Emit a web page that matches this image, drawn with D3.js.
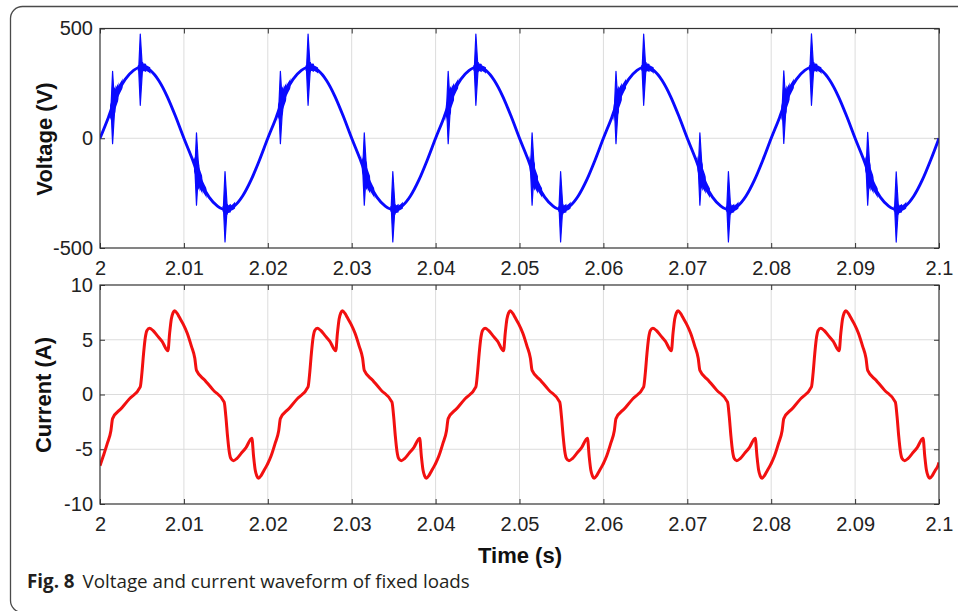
<!DOCTYPE html>
<html><head><meta charset="utf-8">
<script src="https://cdn.jsdelivr.net/npm/d3@7"></script>
<style>body{margin:0;background:#fff}svg{display:block}</style>
</head><body><svg id="c" width="958" height="611"></svg>
<script>
// ---------- data ----------
const xTicks = [2, 2.01, 2.02, 2.03, 2.04, 2.05, 2.06, 2.07, 2.08, 2.09, 2.1];
const xTickLabels = ["2", "2.01", "2.02", "2.03", "2.04", "2.05", "2.06", "2.07", "2.08", "2.09", "2.1"];
const voltageTicks = [-500, 0, 500];
const voltageTickLabels = ["-500", "0", "500"];
const currentTicks = [-10, -5, 0, 5, 10];
const currentTickLabels = ["-10", "-5", "0", "5", "10"];

// voltage base waveform, sampled every 1 ms from t = 2.000 s
const voltageStart = 2.0, voltageStep = 0.001;
const voltageValues = [
  0, 95, 200, 268, 309, 325, 309, 263, 191, 100, 0, -95, -200, -268, -309, -325, -309, -263, -191, -100,
  0, 95, 200, 268, 309, 325, 309, 263, 191, 100, 0, -95, -200, -268, -309, -325, -309, -263, -191, -100,
  0, 95, 200, 268, 309, 325, 309, 263, 191, 100, 0, -95, -200, -268, -309, -325, -309, -263, -191, -100,
  0, 95, 200, 268, 309, 325, 309, 263, 191, 100, 0, -95, -200, -268, -309, -325, -309, -263, -191, -100,
  0, 95, 200, 268, 309, 325, 309, 263, 191, 100, 0, -95, -200, -268, -309, -325, -309, -263, -191, -100,
  0
];
// switching transients on the voltage
const spikeTimes = [2.0015, 2.0048, 2.0115, 2.0149, 2.0215, 2.0248, 2.0315, 2.0349,
                    2.0415, 2.0448, 2.0515, 2.0549, 2.0615, 2.0648, 2.0715, 2.0749,
                    2.0815, 2.0848, 2.0915, 2.0949];
const spikeHigh = [305, 475, 25, -152, 305, 475, 25, -152, 305, 475, 25, -152,
                   305, 475, 25, -152, 307, 476, 27, -153];
const spikeLow = [-25, 150, -305, -472, -25, 150, -305, -472, -25, 150, -305, -472,
                  -25, 150, -305, -472, -24, 150, -305, -473];

// current waveform [time (s), current (A)]
const currentData = [
  [2.0000,-6.5],[2.0004,-5.6],[2.0009,-4.4],[2.0013,-3.3],[2.0015,-2.2],[2.0025,-1.3],[2.0035,-0.4],[2.0048,0.7],
  [2.0050,2.0],[2.0052,3.8],[2.0054,5.2],[2.0056,5.85],[2.0059,6.05],[2.0063,5.85],[2.0068,5.4],[2.0074,4.85],
  [2.0081,4.0],[2.0083,5.6],[2.0085,6.9],[2.0087,7.45],[2.0089,7.65],[2.0092,7.4],[2.0095,7.0],[2.0099,6.45],
  [2.0104,5.6],[2.0109,4.4],[2.0113,3.3],[2.0115,2.2],[2.0125,1.3],[2.0135,0.4],[2.0148,-0.7],[2.0150,-2.0],
  [2.0152,-3.8],[2.0154,-5.2],[2.0156,-5.85],[2.0159,-6.05],[2.0163,-5.85],[2.0168,-5.4],[2.0174,-4.85],[2.0181,-4.0],
  [2.0183,-5.6],[2.0185,-6.9],[2.0187,-7.45],[2.0189,-7.65],[2.0192,-7.4],[2.0195,-7.0],[2.0199,-6.45],

  [2.0200,-6.3],[2.0204,-5.6],[2.0209,-4.4],[2.0213,-3.3],[2.0215,-2.2],[2.0225,-1.3],[2.0235,-0.4],[2.0248,0.7],
  [2.0250,2.0],[2.0252,3.8],[2.0254,5.2],[2.0256,5.85],[2.0259,6.05],[2.0263,5.85],[2.0268,5.4],[2.0274,4.85],
  [2.0281,4.0],[2.0283,5.6],[2.0285,6.9],[2.0287,7.45],[2.0289,7.65],[2.0292,7.4],[2.0295,7.0],[2.0299,6.45],
  [2.0304,5.6],[2.0309,4.4],[2.0313,3.3],[2.0315,2.2],[2.0325,1.3],[2.0335,0.4],[2.0348,-0.7],[2.0350,-2.0],
  [2.0352,-3.8],[2.0354,-5.2],[2.0356,-5.85],[2.0359,-6.05],[2.0363,-5.85],[2.0368,-5.4],[2.0374,-4.85],[2.0381,-4.0],
  [2.0383,-5.6],[2.0385,-6.9],[2.0387,-7.45],[2.0389,-7.65],[2.0392,-7.4],[2.0395,-7.0],[2.0399,-6.45],

  [2.0400,-6.3],[2.0404,-5.6],[2.0409,-4.4],[2.0413,-3.3],[2.0415,-2.2],[2.0425,-1.3],[2.0435,-0.4],[2.0448,0.7],
  [2.0450,2.0],[2.0452,3.8],[2.0454,5.2],[2.0456,5.85],[2.0459,6.05],[2.0463,5.85],[2.0468,5.4],[2.0474,4.85],
  [2.0481,4.0],[2.0483,5.6],[2.0485,6.9],[2.0487,7.45],[2.0489,7.65],[2.0492,7.4],[2.0495,7.0],[2.0499,6.45],
  [2.0504,5.6],[2.0509,4.4],[2.0513,3.3],[2.0515,2.2],[2.0525,1.3],[2.0535,0.4],[2.0548,-0.7],[2.0550,-2.0],
  [2.0552,-3.8],[2.0554,-5.2],[2.0556,-5.85],[2.0559,-6.05],[2.0563,-5.85],[2.0568,-5.4],[2.0574,-4.85],[2.0581,-4.0],
  [2.0583,-5.6],[2.0585,-6.9],[2.0587,-7.45],[2.0589,-7.65],[2.0592,-7.4],[2.0595,-7.0],[2.0599,-6.45],

  [2.0600,-6.3],[2.0604,-5.6],[2.0609,-4.4],[2.0613,-3.3],[2.0615,-2.2],[2.0625,-1.3],[2.0635,-0.4],[2.0648,0.7],
  [2.0650,2.0],[2.0652,3.8],[2.0654,5.2],[2.0656,5.85],[2.0659,6.05],[2.0663,5.85],[2.0668,5.4],[2.0674,4.85],
  [2.0681,4.0],[2.0683,5.6],[2.0685,6.9],[2.0687,7.45],[2.0689,7.65],[2.0692,7.4],[2.0695,7.0],[2.0699,6.45],
  [2.0704,5.6],[2.0709,4.4],[2.0713,3.3],[2.0715,2.2],[2.0725,1.3],[2.0735,0.4],[2.0748,-0.7],[2.0750,-2.0],
  [2.0752,-3.8],[2.0754,-5.2],[2.0756,-5.85],[2.0759,-6.05],[2.0763,-5.85],[2.0768,-5.4],[2.0774,-4.85],[2.0781,-4.0],
  [2.0783,-5.6],[2.0785,-6.9],[2.0787,-7.45],[2.0789,-7.65],[2.0792,-7.4],[2.0795,-7.0],[2.0799,-6.45],

  [2.0800,-6.3],[2.0804,-5.6],[2.0809,-4.4],[2.0813,-3.3],[2.0815,-2.2],[2.0825,-1.3],[2.0835,-0.4],[2.0848,0.7],
  [2.0850,2.0],[2.0852,3.8],[2.0854,5.2],[2.0856,5.85],[2.0859,6.05],[2.0863,5.85],[2.0868,5.4],[2.0874,4.85],
  [2.0881,4.0],[2.0883,5.6],[2.0885,6.9],[2.0887,7.45],[2.0889,7.65],[2.0892,7.4],[2.0895,7.0],[2.0899,6.45],
  [2.0904,5.6],[2.0909,4.4],[2.0913,3.3],[2.0915,2.2],[2.0925,1.3],[2.0935,0.4],[2.0948,-0.7],[2.0950,-2.0],
  [2.0952,-3.8],[2.0954,-5.2],[2.0956,-5.85],[2.0959,-6.05],[2.0963,-5.85],[2.0968,-5.4],[2.0974,-4.85],[2.0981,-4.0],
  [2.0983,-5.6],[2.0985,-6.9],[2.0987,-7.45],[2.0989,-7.65],[2.0992,-7.4],[2.0995,-7.0],[2.0999,-6.45],
  [2.1000,-6.2]
];

const voltageLabel = "Voltage (V)";
const currentLabel = "Current (A)";
const timeLabel = "Time (s)";
const captionBold = "Fig. 8";
const captionText = "Voltage and current waveform of fixed loads";

// ---------- drawing ----------
const W = 958, H = 611;
const svg = d3.select("#c");
svg.append("rect").attr("width", W).attr("height", H).attr("fill", "#fff");
svg.append("rect").attr("x", 10.5).attr("y", 6.5).attr("width", 970).attr("height", 606)
  .attr("rx", 12).attr("fill", "none").attr("stroke", "#4a4a4a").attr("stroke-width", 1.3);

const L = 100, R = 939;
const x = d3.scaleLinear().domain([2, 2.1]).range([L, R]);
const yV = d3.scaleLinear().domain([-500, 500]).range([248, 28.5]);
const yC = d3.scaleLinear().domain([-10, 10]).range([504, 285]);
const tickFont = "'Liberation Sans', Arial, Helvetica, sans-serif";
const defs = svg.append("defs");

function panel(id, y, yTicks, yLabels) {
  const [yb, yt] = y.range();
  const g = svg.append("g");
  g.selectAll(".gx").data(xTicks.slice(1, -1)).join("line")
    .attr("x1", d => x(d)).attr("x2", d => x(d)).attr("y1", yt).attr("y2", yb)
    .attr("stroke", "#dcdcdc").attr("stroke-width", 1);
  g.selectAll(".gy").data(yTicks.slice(1, -1)).join("line")
    .attr("x1", L).attr("x2", R).attr("y1", d => y(d)).attr("y2", d => y(d))
    .attr("stroke", "#dcdcdc").attr("stroke-width", 1);
  const ax = (a) => a.call(s => s.select(".domain").remove())
    .call(s => s.selectAll(".tick line").attr("stroke", "#333"))
    .call(s => s.selectAll("text").attr("fill", "#222").style("font-family", tickFont).style("font-size", "20px"));
  g.append("g").attr("transform", `translate(0,${yb})`)
    .call(d3.axisBottom(x).tickValues(xTicks).tickSize(-5).tickPadding(13).tickFormat((d, i) => xTickLabels[i])).call(ax);
  g.append("g").attr("transform", `translate(0,${yt})`)
    .call(d3.axisTop(x).tickValues(xTicks).tickSize(-5).tickFormat("")).call(ax);
  g.append("g").attr("transform", `translate(${L},0)`)
    .call(d3.axisLeft(y).tickValues(yTicks).tickSize(-5).tickPadding(7).tickFormat((d, i) => yLabels[i])).call(ax);
  g.append("g").attr("transform", `translate(${R},0)`)
    .call(d3.axisRight(y).tickValues(yTicks).tickSize(-5).tickFormat("")).call(ax);
  defs.append("clipPath").attr("id", id).append("rect")
    .attr("x", L).attr("y", yt).attr("width", R - L).attr("height", yb - yt);
  return g;
}

panel("clipV", yV, voltageTicks, voltageTickLabels);
panel("clipC", yC, currentTicks, currentTickLabels);

// voltage
const voltagePts = voltageValues.map((v, i) => [voltageStart + i * voltageStep, v]);
const vLine = d3.line().x(d => x(d[0])).y(d => yV(d[1])).curve(d3.curveMonotoneX);
const blue = "#0a0aff";
const vLayer = svg.append("g").attr("clip-path", "url(#clipV)");
vLayer.append("path").attr("d", vLine(voltagePts)).attr("fill", "none")
  .attr("stroke", blue).attr("stroke-width", 2.9).attr("stroke-linejoin", "round");
// transient blobs: thicker strokes of the same trace around each switching instant
const blobLayers = [{pre: 0.0003, post: 0.0012, w: 5}, {pre: 0.00015, post: 0.0007, w: 7.5}, {pre: 0.00005, post: 0.00035, w: 10}];
spikeTimes.forEach((t, i) => {
  blobLayers.forEach((b, j) => {
    const cid = `bl${i}_${j}`;
    defs.append("clipPath").attr("id", cid).append("rect")
      .attr("x", x(t - b.pre)).attr("y", 0).attr("width", x(t + b.post) - x(t - b.pre)).attr("height", H);
    vLayer.append("path").attr("d", vLine(voltagePts)).attr("fill", "none")
      .attr("clip-path", `url(#${cid})`).attr("stroke", blue).attr("stroke-width", b.w);
  });
});
// needle of each transient: pointed at both extremes, widest at the trace
vLayer.selectAll(".spike").data(spikeTimes).join("path")
  .attr("d", (d, i) => {
    const xs = x(d), yh = yV(spikeHigh[i]), yl = yV(spikeLow[i]), ym = (yh + yl) / 2;
    return `M${xs},${yh}L${xs + 2.2},${ym}L${xs},${yl}L${xs - 1.6},${ym}Z`;
  })
  .attr("fill", blue).attr("stroke", blue).attr("stroke-width", 1.2).attr("stroke-linejoin", "round");

// current
const cLine = d3.line().x(d => x(d[0])).y(d => yC(d[1])).curve(d3.curveMonotoneX);
svg.append("g").attr("clip-path", "url(#clipC)").append("path")
  .attr("d", cLine(currentData)).attr("fill", "none")
  .attr("stroke", "#f21010").attr("stroke-width", 3).attr("stroke-linejoin", "round");

// boxes
[yV, yC].forEach(y => {
  const [yb, yt] = y.range();
  svg.append("rect").attr("x", L).attr("y", yt).attr("width", R - L).attr("height", yb - yt)
    .attr("fill", "none").attr("stroke", "#333").attr("stroke-width", 1.2);
});

// axis titles
const lab = (txt, tx, ty, rot) => svg.append("text").text(txt)
  .attr("transform", `translate(${tx},${ty}) rotate(${rot})`)
  .attr("text-anchor", "middle").attr("fill", "#111")
  .style("font-family", tickFont).style("font-size", "22px").style("font-weight", "bold");
lab(voltageLabel, 52, 139, -90);
lab(currentLabel, 51, 395, -90);
lab(timeLabel, 520, 562.5, 0);

// caption
const cap = svg.append("text").attr("x", 27).attr("y", 588).attr("fill", "#231f20")
  .style("font-family", "'Open Sans', 'Noto Sans', sans-serif").style("font-size", "17px");
cap.append("tspan").text(captionBold).style("font-weight", "bold");
cap.append("tspan").attr("dx", 8).text(captionText);
const len = cap.node().getComputedTextLength();
cap.style("font-size", (17 * 435 / len).toFixed(2) + "px");
</script></body></html>
